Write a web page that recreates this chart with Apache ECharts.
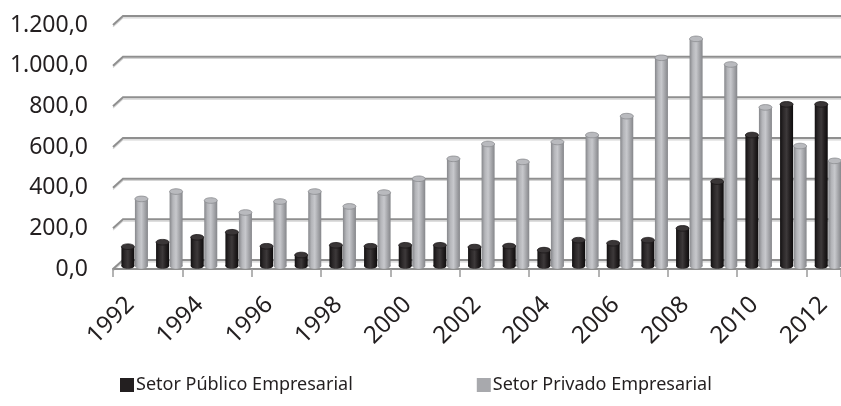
<!DOCTYPE html>
<html>
<head>
<meta charset="utf-8">
<script src="https://cdn.jsdelivr.net/npm/echarts@6/dist/echarts.min.js"></script>
<style>
  html, body { margin: 0; padding: 0; background: #fff; }
  #chart { width: 841px; height: 406px; }
</style>
</head>
<body>
<div id="chart"></div>
<script>
// Years on the category axis
const years = ['1992','1993','1994','1995','1996','1997','1998','1999','2000','2001','2002',
               '2003','2004','2005','2006','2007','2008','2009','2010','2011','2012'];

// Investment by sector
const publico = [95, 117, 141, 166, 97, 54, 102, 97, 102, 102, 93,
                 98, 78, 127, 112, 127, 185, 415, 644, 795, 795];
const privado = [330, 366, 322, 263, 317, 366, 293, 361, 429, 527, 600,
                 512, 610, 644, 737, 1024, 1117, 991, 780, 590, 517];

const serieNames = ['Setor Público Empresarial', 'Setor Privado Empresarial'];

const FONT = 'Noto Sans';
const TEXT = '#231f20';
const GRID_LEFT = 113;
const WALL_DX = 10, WALL_DY = 9;   // depth of the back wall
const BAR_DEPTH = 3;               // bars stand slightly behind the front edge

const fmt = v => {
  const s = v.toFixed(1).replace('.', ',');
  const [i, d] = s.split(',');
  return i.replace(/\B(?=(\d{3})+(?!\d))/g, '.') + ',' + d;
};

function grad(stops) {
  return new echarts.graphic.LinearGradient(0, 0, 1, 0,
    stops.map((c, k) => ({ offset: k / (stops.length - 1), color: c })));
}

// Cylinder drawn from the category/value scales; offset is a fraction of the band
function cylinder(offset, bodyStops, capColor, rimColor) {
  return function (params, api) {
    const top = api.coord([api.value(0), api.value(1)]);
    const base = api.coord([api.value(0), 0]);
    const band = api.size([1, 0])[0];
    const w = band * 0.375;
    const cx = top[0] + offset * band;
    const yTop = top[1] - BAR_DEPTH;
    const yBot = base[1] - BAR_DEPTH;
    const ry = 2.8;
    const body = grad(bodyStops);
    return {
      type: 'group',
      children: [
        { type: 'ellipse', shape: { cx: cx, cy: yBot, rx: w / 2, ry: ry }, style: { fill: body } },
        { type: 'rect', shape: { x: cx - w / 2, y: yTop, width: w, height: Math.max(0, yBot - yTop) }, style: { fill: body } },
        { type: 'ellipse', shape: { cx: cx, cy: yTop, rx: w / 2, ry: ry },
          style: { fill: capColor, stroke: rimColor, lineWidth: 0.8 } }
      ]
    };
  };
}

const chart = echarts.init(document.getElementById('chart'), null, { renderer: 'canvas' });
chart.setOption({
  animation: false,
  backgroundColor: '#ffffff',
  grid: { left: GRID_LEFT, right: 0, top: 25, bottom: 137 },
  legend: {
    left: 115, top: 371,
    itemWidth: 14, itemHeight: 14, itemGap: 124,
    icon: 'rect',
    textStyle: { fontFamily: FONT, fontSize: 18, color: TEXT, padding: [0, 0, 0, -3] },
    data: [
      { name: serieNames[0], itemStyle: { color: '#231f20' } },
      { name: serieNames[1], itemStyle: { color: '#a8a9ad' } }
    ]
  },
  xAxis: {
    type: 'category',
    data: years,
    axisLine: { lineStyle: { color: '#8f8f8f', width: 2 } },
    axisTick: { show: true, length: 8, lineStyle: { color: '#9a9a9a', width: 1.5 } },
    axisLabel: {
      interval: 1, rotate: 45, margin: 32,
      fontFamily: FONT, fontSize: 24, color: TEXT
    }
  },
  yAxis: {
    type: 'value',
    min: 0, max: 1200, interval: 200,
    axisLine: { show: false },
    axisTick: { show: false },
    splitLine: { show: false },
    axisLabel: {
      margin: 25, fontFamily: FONT, fontSize: 23, color: TEXT,
      formatter: fmt
    }
  },
  series: [
    {
      name: serieNames[0], type: 'custom', z: 5,
      itemStyle: { color: '#231f20' },
      encode: { x: 0, y: 1 },
      data: publico.map((v, i) => [i, v]),
      renderItem: cylinder(-0.07, ['#121011', '#2c2829', '#3d393a', '#231f20', '#0e0c0d'], '#3a3637', '#1a1718')
    },
    {
      name: serieNames[1], type: 'custom', z: 5,
      itemStyle: { color: '#a8a9ad' },
      encode: { x: 0, y: 1 },
      data: privado.map((v, i) => [i, v]),
      renderItem: cylinder(0.32, ['#86878b', '#b4b5b9', '#c7c8cc', '#a6a7ab', '#85868a'], '#b9babe', '#8a8b8f')
    }
  ]
});

// Back wall gridlines with a short receding edge at the left, from the value scale
function drawWall() {
  const right = chart.getWidth();
  const elements = [];
  for (let v = 0; v <= 1200; v += 200) {
    const y = chart.convertToPixel({ yAxisIndex: 0 }, v);
    const pts = [[GRID_LEFT, y], [GRID_LEFT + WALL_DX, y - WALL_DY], [right, y - WALL_DY]];
    elements.push({
      type: 'polyline', z: -10, silent: true,
      shape: { points: pts.map(p => [p[0], p[1] + 1.8]) },
      style: { stroke: '#d4d4d4', lineWidth: 1.2, fill: null }
    });
    elements.push({
      type: 'polyline', z: -9, silent: true,
      shape: { points: pts },
      style: { stroke: '#8f8f8f', lineWidth: 2, fill: null }
    });
  }
  chart.setOption({ graphic: { elements: elements } });
}
drawWall();
</script>
</body>
</html>
